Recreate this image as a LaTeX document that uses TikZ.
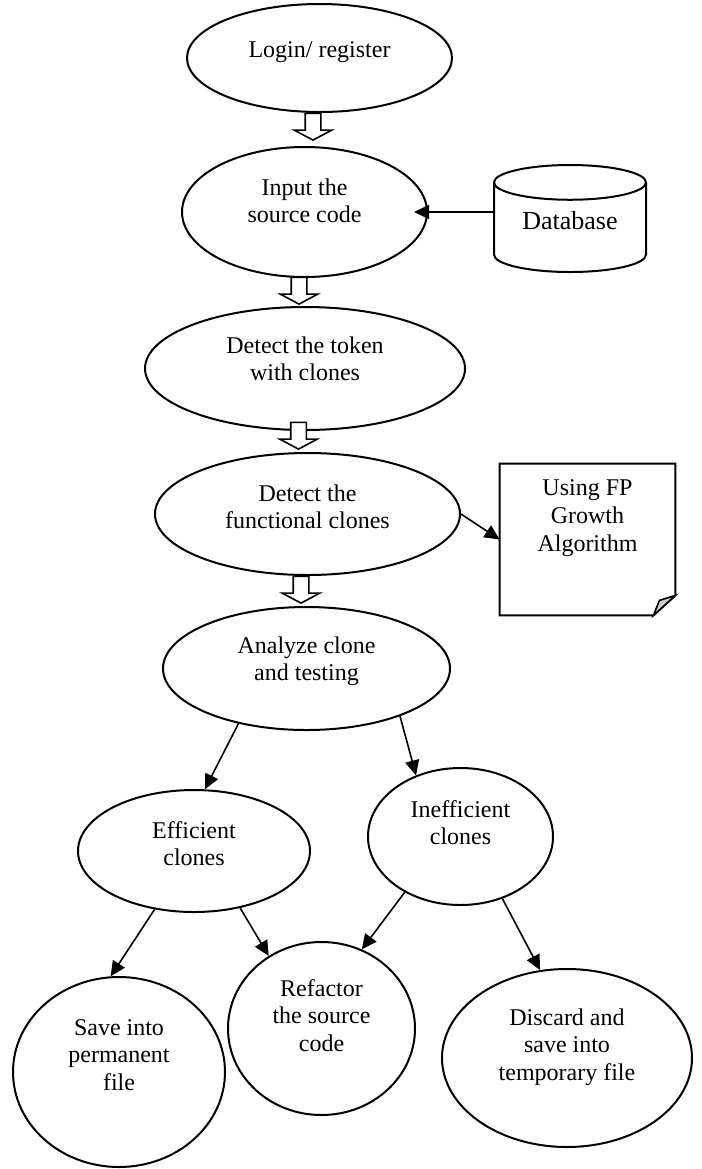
\documentclass[tikz,border=0pt]{standalone}
\usepackage{fontspec}
\setmainfont{Liberation Serif}
\usetikzlibrary{shapes.geometric, shapes.arrows, arrows.meta, positioning}

\begin{document}
\begin{tikzpicture}[x=0.5pt, y=-0.5pt, every node/.style={font=\fontsize{12}{13.8}\selectfont}]
\useasboundingbox (0,0) rectangle (702,1169);
% Define styles
\tikzstyle{process} = [ellipse, draw=black, line width=1pt, inner sep=0pt, align=center]
\tikzstyle{hollow} = [single arrow, draw=black, fill=white, line width=0.8pt, rotate=-90, anchor=tip, inner xsep=5.25pt, inner ysep=3.5pt, single arrow head extend=5.5pt, single arrow tip angle=124]
\tikzstyle{store} = [cylinder, shape border rotate=90, aspect=0.32, draw=black, line width=1pt, minimum width=76pt, minimum height=53.5pt, text depth=11pt, anchor=shape center, font=\fontsize{13}{15}\selectfont]
\tikzstyle{note} = [rectangle, minimum width=87.5pt, minimum height=75.5pt, inner sep=0pt]
\tikzstyle{arrow} = [line width=0.8pt, ->, >={Triangle[length=7.5pt, width=7pt]}]
% Place nodes (text height/depth lift the text a little above the centre)
\node (login) [process, text height=8pt, text depth=9pt, minimum width=132.5pt, minimum height=54pt] at (319.5,58) {Login/ register};
\node (input) [process, text height=12pt, text depth=1.4pt, minimum width=122.5pt, minimum height=65pt] at (304.5,212) {Input the\\source code};
\node (db) [store] at (570,218.5) {Database};
\node (token) [process, text height=13pt, text depth=0.9pt, minimum width=160pt, minimum height=61.5pt] at (305,368.5) {Detect the token\\with clones};
\node (func) [process, text height=15pt, text depth=0.4pt, minimum width=152.5pt, minimum height=61pt] at (307.5,514) {Detect the\\functional clones};
\node (fp) [note] at (587.5,539.5) {};
\node (fptext) [below=8pt of fp.north, inner sep=0pt, align=center] {Using FP\\Growth\\Algorithm};
\node (analyze) [process, text height=13pt, text depth=0.9pt, minimum width=143.5pt, minimum height=61.5pt] at (306.5,668.5) {Analyze clone\\and testing};
\node (eff) [process, text height=15pt, text depth=0.4pt, minimum width=116pt, minimum height=61pt] at (194,851) {Efficient\\clones};
\node (ineff) [process, text height=9pt, text depth=0.9pt, minimum width=92.5pt, minimum height=68.5pt] at (460.5,836.5) {Inefficient\\clones};
\node (refactor) [process, text height=23pt, text depth=0.3pt, minimum width=93.5pt, minimum height=86.5pt] at (321.5,1028.5) {Refactor\\the source\\code};
\node (save) [process, text height=19pt, text depth=0.8pt, minimum width=106pt, minimum height=95pt] at (119,1072) {Save into\\permanent\\file};
\node (discard) [process, text height=23pt, text depth=0.8pt, minimum width=125pt, minimum height=89pt] at (567,1058) {Discard and\\save into\\temporary file};
% Note outline with folded corner
\draw [line width=1pt] (fp.north west) -- (fp.north east) -- ([yshift=10pt]fp.south east) -- ([xshift=-11pt]fp.south east) -- (fp.south west) -- cycle;
\draw [line width=0.8pt, fill=gray!40] ([yshift=10pt]fp.south east) -- ([xshift=-8pt, yshift=7.5pt]fp.south east) -- ([xshift=-11pt]fp.south east) -- cycle;
% Hollow arrows
\node (h1) [hollow] at ([xshift=4.25pt, yshift=2.5pt]input.north) {};
\node (h2) [hollow] at ([xshift=-3pt, yshift=0.5pt]token.north) {};
\node (h3) [hollow] at ([xshift=-4.5pt, yshift=1pt]func.north) {};
\node (h4) [hollow] at ([xshift=-2.75pt, yshift=1pt]analyze.north) {};
% Draw arrows
\draw [arrow] (db.west |- input.east) -- ([xshift=-7pt]input.east);
\draw [arrow] (func.east) -- (fp.west);
\draw [arrow] (analyze.219) -- (eff.80);
\draw [arrow] (analyze.333) -- (ineff.126);
\draw [arrow] (eff.236) -- (save.95);
\draw [arrow] (eff.309) -- (refactor.126);
\draw [arrow] (ineff.225) -- (refactor.63);
\draw [arrow] (ineff.304) -- (discard.107);
\end{tikzpicture}
\end{document}
